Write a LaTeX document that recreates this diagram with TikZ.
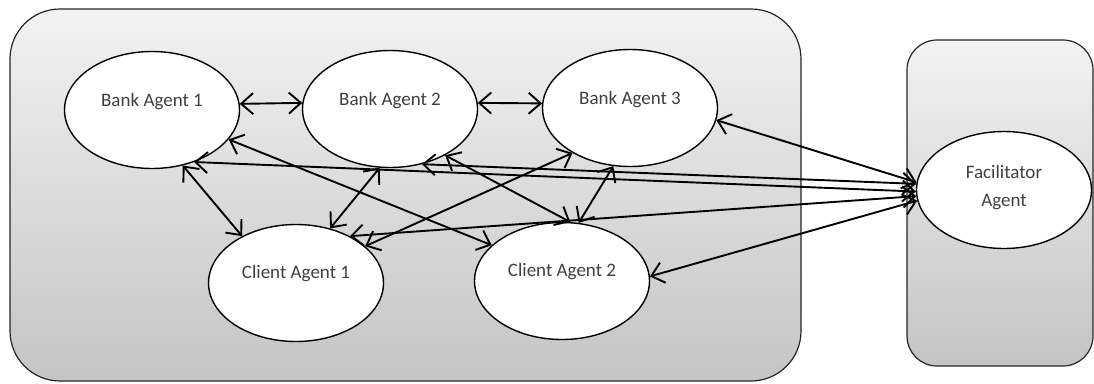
\documentclass[tikz,border=0pt]{standalone}
\usepackage{fontspec}
\setmainfont{Carlito}
\usetikzlibrary{arrows.meta,shapes.geometric}
\begin{document}
\begin{tikzpicture}[x=1pt,y=-1pt,
  panel/.style={draw=black!85, line width=1.2pt, rounded corners=#1, top color=black!5, bottom color=black!23},
  agent/.style={ellipse, draw=black, line width=1.4pt, fill=white, minimum width=175pt, minimum height=117pt, inner sep=0pt},
  lab/.style={text=black!75, font=\fontsize{19}{28}\selectfont, align=center},
  link/.style={line width=1.9pt, {Straight Barb[length=12pt,width=21pt]}-{Straight Barb[length=12pt,width=21pt]}}
]
\useasboundingbox (0,0) rectangle (1094,383);
\path[panel=50pt] (10,9) rectangle (801,381);
\path[panel=30pt] (907,40) rectangle (1093,366);

\node[agent, label={[lab,yshift=8pt]center:Bank Agent 1}] (ba1) at (152,110) {};
\node[agent, label={[lab,yshift=8pt]center:Bank Agent 2}] (ba2) at (390,109) {};
\node[agent, label={[lab,yshift=8pt]center:Bank Agent 3}] (ba3) at (630,108) {};
\node[agent, label={[lab,yshift=9pt]center:Client Agent 1}] (cl1) at (296,283) {};
\node[agent, label={[lab,yshift=9pt]center:Client Agent 2}] (cl2) at (562,281) {};
\node[agent, label={[lab,yshift=2pt]center:Facilitator\\Agent}] (fa) at (1004,190) {};

\draw[link] (ba1.4) -- (ba2.176);
\draw[link] (ba2.4) -- (ba3.177);
\draw[link] (ba1.-21) -- (cl2.153);
\draw[link] (ba1.-51) -- (fa.181);
\draw[link] (ba1.-61) -- (cl1.139);
\draw[link] (ba2.-100) -- (cl1.58);
\draw[link] (ba2.-40) -- (cl2.82);
\draw[link] (ba2.-60) -- (fa.176);
\draw[link] (ba3.-142) -- (cl1.28);
\draw[link] (ba3.-106) -- (cl2.74);
\draw[link] (ba3.-8) -- (fa.175);
\draw[link] (cl1.41) -- (fa.184);
\draw[link] (cl2.3) -- (fa.187);
\end{tikzpicture}
\end{document}
